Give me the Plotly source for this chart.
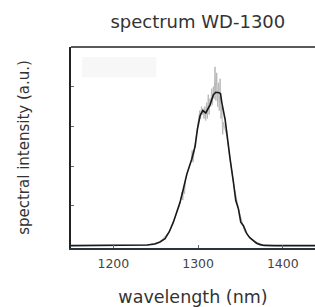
import plotly.graph_objects as go

# smoothed spectrum (black)
smooth_wl = [1150, 1200, 1225, 1240, 1249, 1255, 1261, 1266, 1270.8, 1275, 1278.7, 1282.6, 1286.7,
             1292.5, 1296.5, 1299.2, 1302.4, 1305.5, 1307.5, 1309.1, 1314.2, 1318.1, 1320.9, 1324.8,
             1326.5, 1328, 1331.9, 1333.9, 1337.8, 1341.7, 1344.5, 1347.6, 1350.4, 1353.5, 1357.5,
             1361, 1365.3, 1369, 1373.2, 1378, 1390, 1438]
smooth_int = [0, 0, 0.001, 0.003, 0.008, 0.018, 0.035, 0.07, 0.118, 0.17, 0.218, 0.285, 0.36,
              0.435, 0.50, 0.585, 0.655, 0.68, 0.675, 0.668, 0.71, 0.76, 0.772, 0.77,
              0.765, 0.72, 0.635, 0.56, 0.435, 0.32, 0.227, 0.185, 0.118, 0.10, 0.06,
              0.04, 0.025, 0.012, 0.005, 0.001, 0, 0]

# raw spectrum (gray)
raw_wl = [1150, 1200, 1240, 1255, 1266, 1270, 1275, 1278, 1280, 1281, 1282, 1283, 1284, 1285, 1287,
          1290, 1292, 1293, 1294, 1296, 1299, 1301, 1302, 1303, 1304, 1305, 1306, 1307, 1308, 1309,
          1310, 1311, 1312, 1313, 1314, 1315, 1316, 1317, 1318, 1319, 1320, 1321, 1322, 1323, 1324,
          1325, 1326, 1327, 1328, 1329, 1330, 1331, 1332, 1334, 1338, 1342, 1348, 1355, 1365, 1378,
          1390, 1438]
raw_int = [0, 0, 0.003, 0.018, 0.07, 0.11, 0.17, 0.20, 0.24, 0.27, 0.23, 0.30, 0.26, 0.33, 0.36,
           0.41, 0.43, 0.48, 0.42, 0.50, 0.58, 0.63, 0.68, 0.64, 0.70, 0.66, 0.69, 0.64, 0.70, 0.63,
           0.72, 0.64, 0.76, 0.66, 0.74, 0.70, 0.79, 0.71, 0.80, 0.74, 0.90, 0.73, 0.87, 0.70, 0.82,
           0.68, 0.84, 0.64, 0.70, 0.56, 0.62, 0.60, 0.58, 0.55, 0.43, 0.31, 0.18, 0.07, 0.025, 0.001,
           0, 0]

x_ticks = [1200, 1300, 1400]
y_ticks = [0.2, 0.4, 0.6, 0.8]

fig = go.Figure()
fig.add_trace(go.Scatter(x=raw_wl, y=raw_int, mode="lines",
                         line=dict(color="#b8b8b8", width=1), showlegend=False))
fig.add_trace(go.Scatter(x=smooth_wl, y=smooth_int, mode="lines",
                         line=dict(color="#1a1a1a", width=1.6), showlegend=False))

font = "DejaVu Sans, sans-serif"
fig.update_layout(
    width=315, height=307,
    margin=dict(l=71, r=0, t=47, b=59),
    paper_bgcolor="white", plot_bgcolor="white",
    font=dict(family=font, color="#333333"),
    title=dict(text="spectrum WD-1300", x=0.628, xanchor="center", y=0.928, yanchor="middle",
               font=dict(size=18, color="#333333")),
    xaxis=dict(range=[1150, 1438], tickvals=x_ticks, ticks="inside", ticklen=3,
               tickcolor="#666666", showgrid=False, zeroline=False,
               showline=True, linecolor="#2a3440", linewidth=1.5,
               ticklabelstandoff=3,
               tickfont=dict(size=12.5, color="#444444"),
               title=dict(text="wavelength (nm)", font=dict(size=17.5, color="#333333"), standoff=22)),
    yaxis=dict(range=[-0.012, 1.0], tickvals=y_ticks, ticks="inside", ticklen=3,
               tickcolor="#666666", showticklabels=False, showgrid=False, zeroline=False,
               showline=True, linecolor="#222222", linewidth=1.5,
               title=dict(text="spectral intensity (a.u.)", font=dict(size=15, color="#333333"),
                          standoff=36)),
    shapes=[
        dict(type="line", xref="paper", yref="paper", x0=0, x1=1, y0=1, y1=1,
             line=dict(color="#222222", width=1.5)),
        dict(type="rect", xref="paper", yref="paper", x0=0.045, x1=0.35, y0=0.85, y1=0.95,
             fillcolor="#f7f7f7", line=dict(width=0), layer="below"),
    ],
)

fig.write_html("out.html", config={"displayModeBar": False},
               post_script="document.body.style.margin='0';")
